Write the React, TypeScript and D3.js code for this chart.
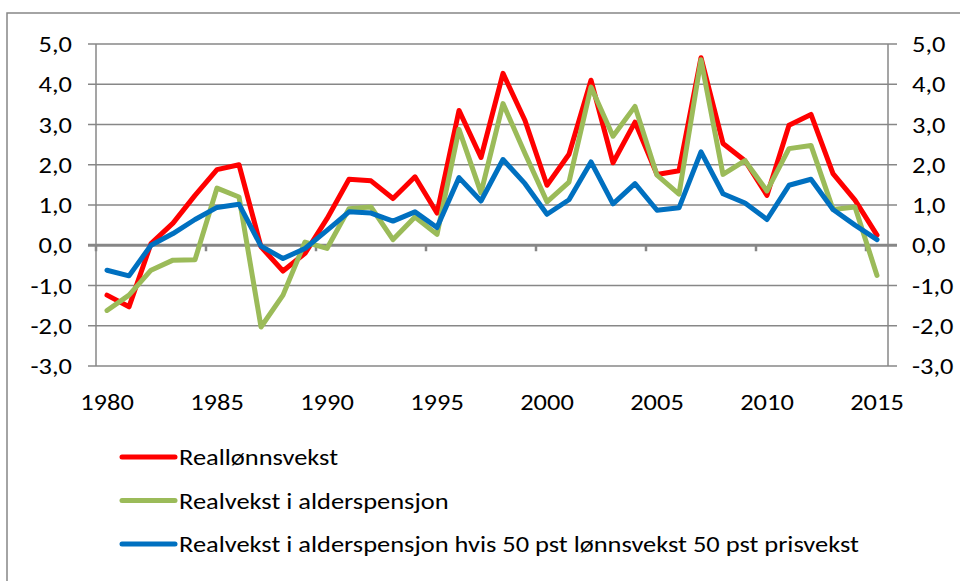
import React from "react";
import * as d3 from "d3";

const years = d3.range(1980, 2016);

const reallonn = [
  -1.24, -1.53, 0.04, 0.55, 1.24, 1.88, 2.0, -0.04, -0.64, -0.2, 0.66, 1.64,
  1.6, 1.16, 1.7, 0.8, 3.35, 2.18, 4.27, 3.1, 1.49, 2.26, 4.1, 2.05, 3.06,
  1.76, 1.85, 4.66, 2.53, 2.1, 1.24, 2.98, 3.25, 1.78, 1.12, 0.25,
];
const pensjon = [
  -1.62, -1.24, -0.62, -0.37, -0.36, 1.42, 1.2, -2.03, -1.24, 0.08, -0.08,
  0.91, 0.95, 0.14, 0.7, 0.27, 2.88, 1.3, 3.52, 2.28, 1.08, 1.57, 3.93, 2.71,
  3.45, 1.74, 1.27, 4.61, 1.76, 2.1, 1.35, 2.4, 2.48, 0.89, 0.95, -0.75,
];
const pensjon5050 = [
  -0.62, -0.76, 0.0, 0.29, 0.64, 0.94, 1.02, -0.02, -0.33, -0.08, 0.37, 0.83,
  0.8, 0.6, 0.83, 0.44, 1.68, 1.1, 2.13, 1.53, 0.77, 1.13, 2.07, 1.03, 1.53,
  0.87, 0.93, 2.32, 1.28, 1.05, 0.64, 1.49, 1.64, 0.89, 0.5, 0.14,
];

const yTicks = [5, 4, 3, 2, 1, 0, -1, -2, -3];
const xLabels = [1980, 1985, 1990, 1995, 2000, 2005, 2010, 2015];

const series = [
  { name: "Reallønnsvekst", values: reallonn, color: "#ff0000" },
  { name: "Realvekst i alderspensjon", values: pensjon, color: "#9bbb59" },
  {
    name: "Realvekst i alderspensjon hvis 50 pst lønnsvekst 50 pst prisvekst",
    values: pensjon5050,
    color: "#0070c0",
  },
];

const W = 960, H = 581;
const left = 96, right = 888, top = 44, bottom = 366;
const font = "Carlito, 'Liberation Sans', Arial, sans-serif";
const grid = "#878787";
const fs = 23;
const sx = 1.15; // the reference text is a bit wider than Carlito

const fmt = (t: number) => d3.format(".1f")(t).replace(".", ",").replace("−", "-");

// text stretched horizontally around its anchor point
const Label = ({ x, y, anchor = "start", children }: any) => (
  <text
    transform={`translate(${x},${y}) scale(${sx},1)`}
    dy="0.35em"
    textAnchor={anchor}
    fontSize={fs}
    fill="#000"
  >
    {children}
  </text>
);

export default function App() {
  const x = d3.scalePoint<number>().domain(years).range([left, right]).padding(0.5);
  const y = d3.scaleLinear().domain([-3, 5]).range([bottom, top]);
  const step = x.step();

  const line = (vals: number[]) =>
    d3.line<number>()
      .x((_, i) => x(years[i]) as number)
      .y(d => y(d))(vals) as string;

  const boundaryTicks = d3.range(0, years.length, 5).map(i => left + i * step);

  return (
    <svg
      width={W}
      height={H}
      style={{ position: "absolute", left: 0, top: 0, background: "#fff" }}
      fontFamily={font}
    >
      <rect x={7} y={13} width={W} height={H} fill="#fff" stroke={grid} strokeWidth={1.5} />

      {yTicks.map(t => (
        <g key={t}>
          <line
            x1={left - 8}
            x2={right + 9}
            y1={y(t)}
            y2={y(t)}
            stroke={grid}
            strokeWidth={t === 0 ? 3 : 1.5}
          />
          <Label x={72} y={y(t)} anchor="end">{fmt(t)}</Label>
          <Label x={912} y={y(t)}>{fmt(t)}</Label>
        </g>
      ))}

      <line x1={left} x2={left} y1={top} y2={bottom} stroke={grid} strokeWidth={1.5} />
      <line x1={right} x2={right} y1={top} y2={bottom} stroke={grid} strokeWidth={1.5} />

      {boundaryTicks.map(bx => (
        <line key={bx} x1={bx} x2={bx} y1={y(0)} y2={y(0) + 6} stroke={grid} strokeWidth={2.5} />
      ))}

      {xLabels.map(yr => (
        <Label key={yr} x={x(yr)} y={402} anchor="middle">{yr}</Label>
      ))}

      {series.map(s => (
        <path
          key={s.name}
          d={line(s.values)}
          fill="none"
          stroke={s.color}
          strokeWidth={5}
          strokeLinejoin="round"
          strokeLinecap="round"
        />
      ))}

      {series.map((s, i) => (
        <g key={s.name} transform={`translate(0, ${457 + i * 43.5})`}>
          <line x1={122} x2={175} y1={0} y2={0} stroke={s.color} strokeWidth={5} strokeLinecap="round" />
          <Label x={179} y={0}>{s.name}</Label>
        </g>
      ))}
    </svg>
  );
}
